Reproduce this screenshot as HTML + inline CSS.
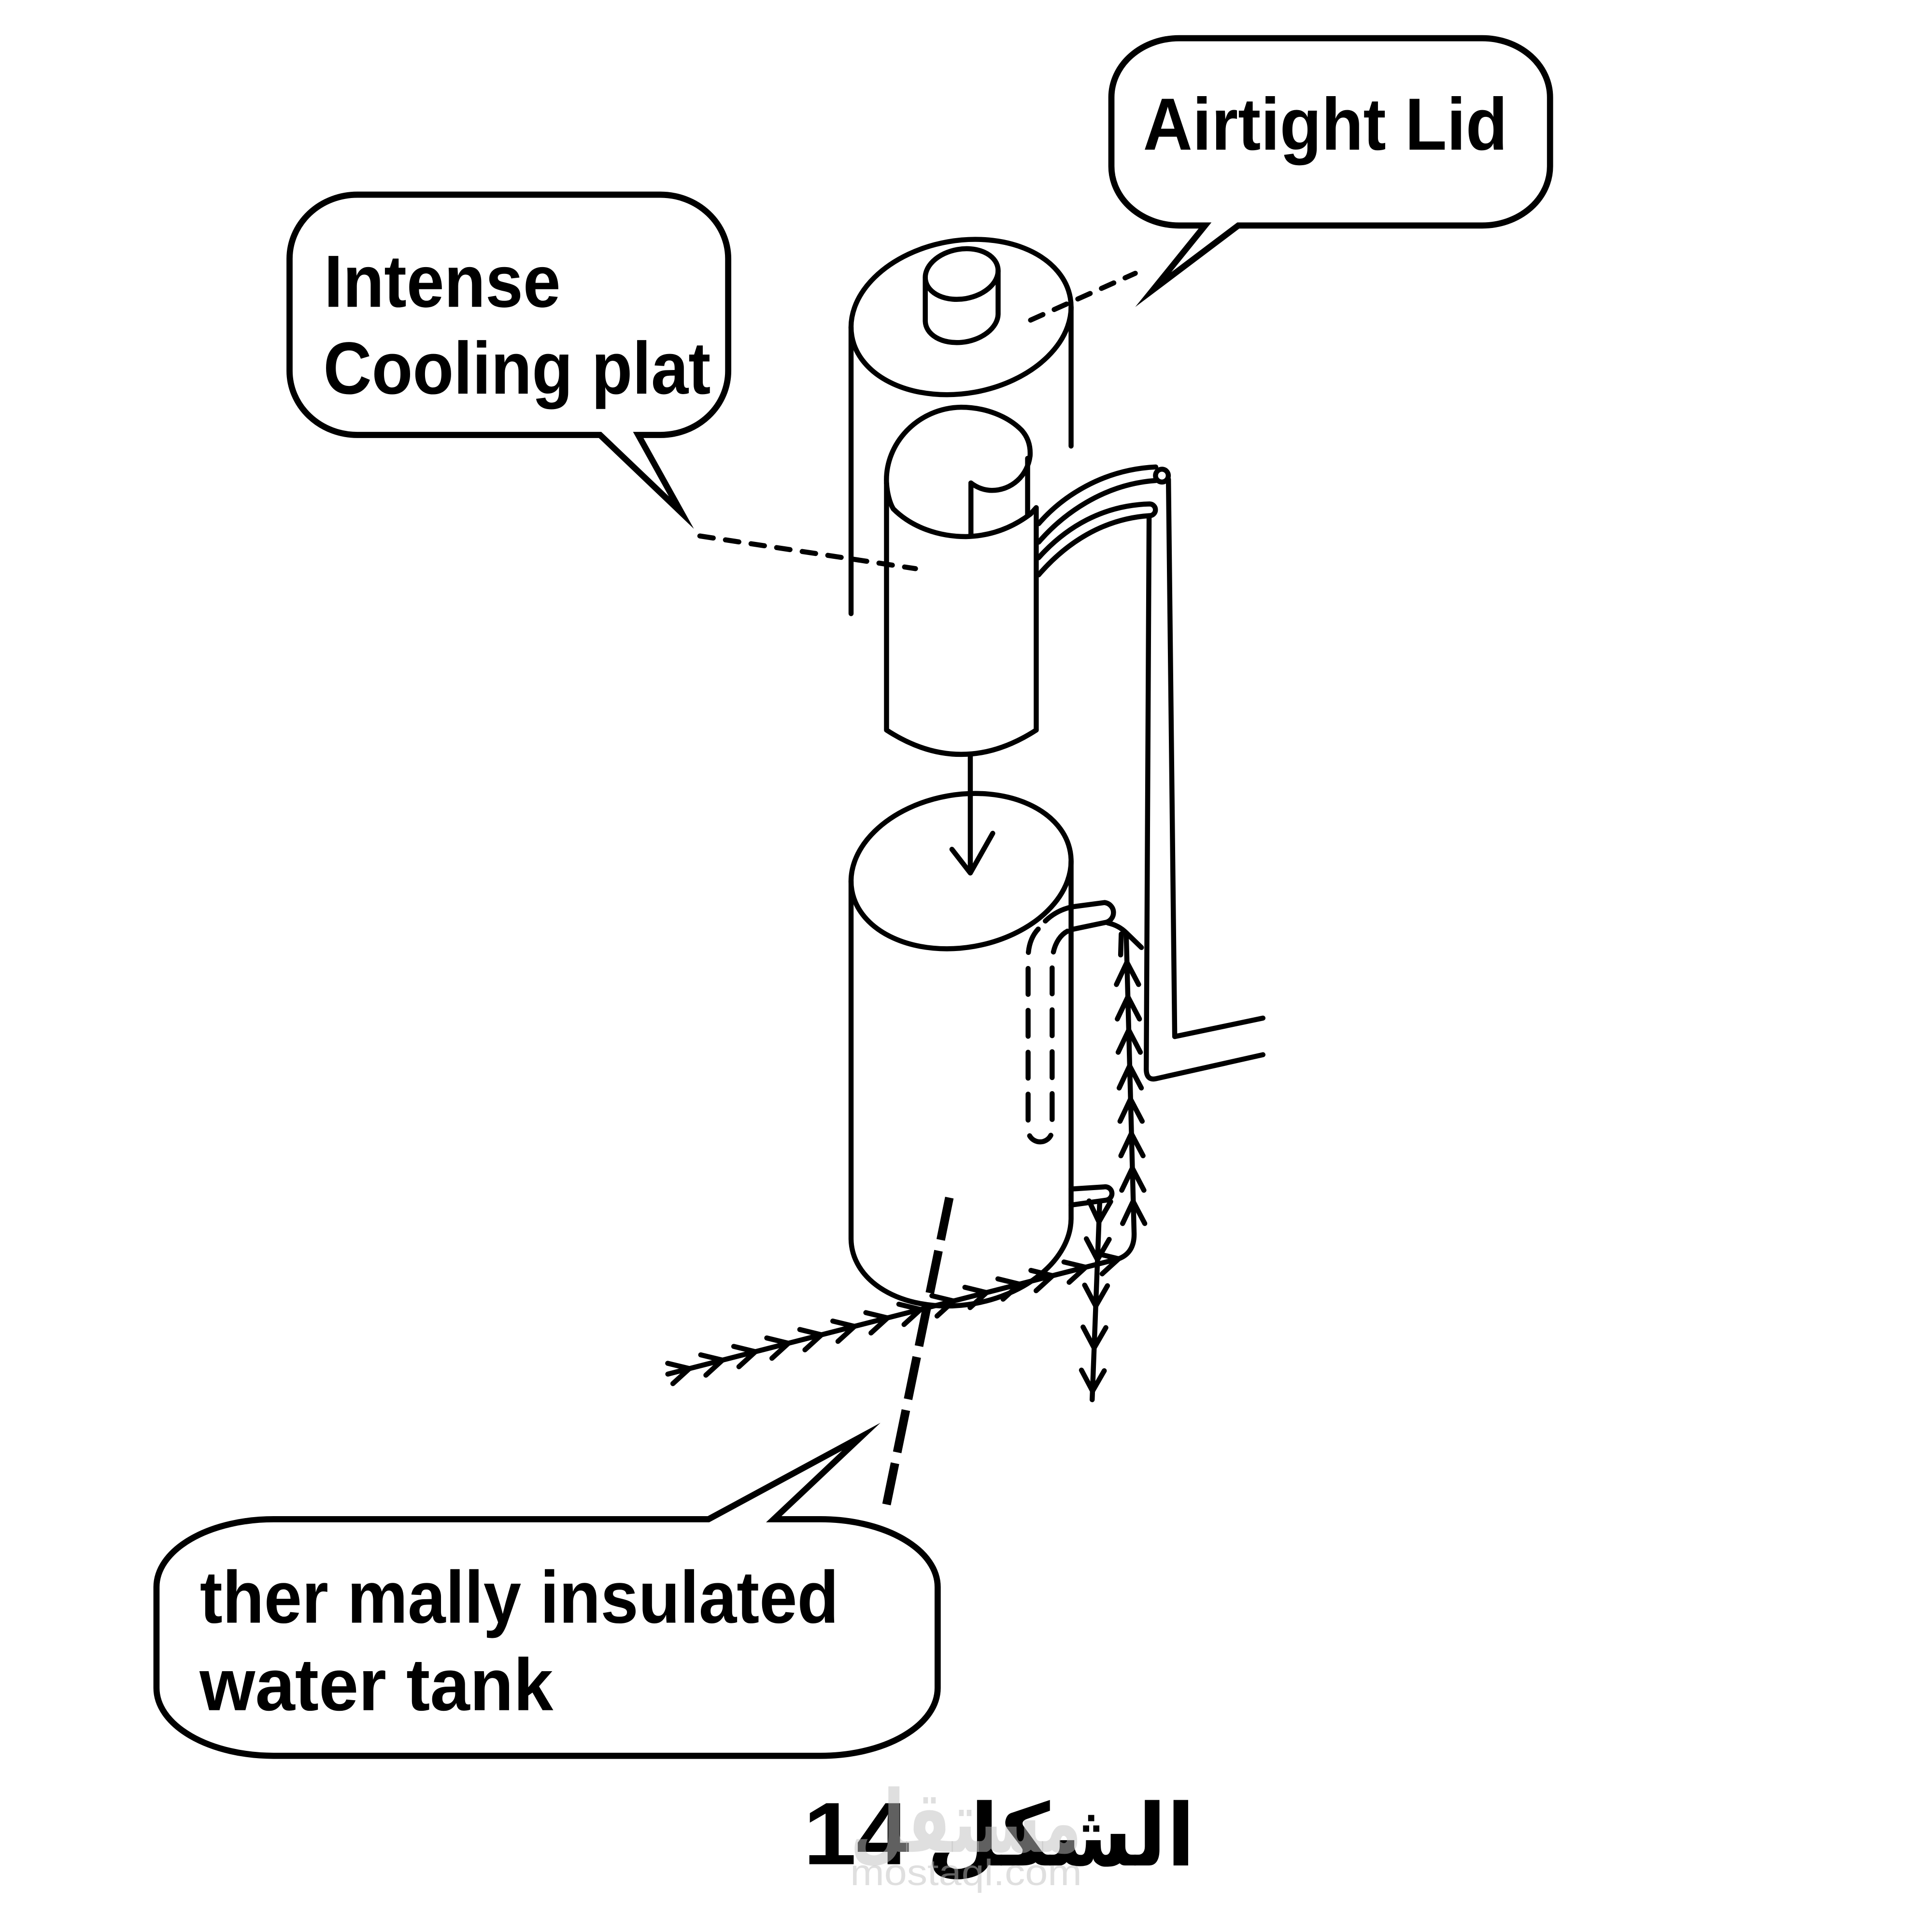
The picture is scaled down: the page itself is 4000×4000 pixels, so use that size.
<!DOCTYPE html>
<html>
<head>
<meta charset="utf-8">
<style>
html,body{margin:0;padding:0;background:#fff}
svg{display:block}
</style>
</head>
<body>
<svg xmlns="http://www.w3.org/2000/svg" width="4000" height="4000" viewBox="0 0 1568 1568">
<rect width="1568" height="1568" fill="#fff"/>

<!-- Speech bubbles -->
<g fill="#fff" stroke="#000" stroke-width="5" stroke-linejoin="miter" stroke-miterlimit="12">
  <path d="M957,31 H1203 A55 48 0 0 1 1258,79 V135 A55 48 0 0 1 1203,183 H1005 L936,235 L978,183 H957 A55 48 0 0 1 902,135 V79 A55 48 0 0 1 957,31 Z"/>
  <path d="M290,158 H536 A55 52 0 0 1 591,210 V301 A55 52 0 0 1 536,353 H518 L553,416 L487,353 H290 A55 52 0 0 1 235,301 V210 A55 52 0 0 1 290,158 Z"/>
  <path d="M222,1233 H575 L699,1166 L628,1233 H666 A95 55 0 0 1 761,1288 V1370 A95 55 0 0 1 666,1425 H222 A95 55 0 0 1 127,1370 V1288 A95 55 0 0 1 222,1233 Z"/>
</g>

<!-- Bubble labels -->
<g font-family="'Liberation Sans', Arial, sans-serif" font-weight="bold" font-size="60" fill="#000">
  <text x="927.7" y="121.5" textLength="295.8" lengthAdjust="spacingAndGlyphs">Airtight Lid</text>
  <text x="263" y="249" textLength="192" lengthAdjust="spacingAndGlyphs">Intense</text>
  <text x="262.4" y="319.5" textLength="314.4" lengthAdjust="spacingAndGlyphs">Cooling plat</text>
  <text x="162.2" y="1317" textLength="518.5" lengthAdjust="spacingAndGlyphs">ther mally insulated</text>
  <text x="162" y="1388" textLength="287" lengthAdjust="spacingAndGlyphs">water tank</text>
</g>

<!-- Drawing -->
<g fill="none" stroke="#000" stroke-width="4.1" stroke-linecap="round" stroke-linejoin="round">
  <!-- Lid cylinder -->
  <ellipse cx="780" cy="257.3" rx="90" ry="62" transform="rotate(-10 780 257.3)"/>
  <path d="M690.72,265.45 V498"/>
  <path d="M869.28,249.15 V362"/>
  <!-- knob -->
  <ellipse cx="780.5" cy="222.4" rx="29.8" ry="20.2" transform="rotate(-10 780.5 222.4)"/>
  <path d="M750.95,225.2 V260.68 A29.8 20.2 -10 0 0 810.05,255.12 V219.6"/>

  <!-- Cooling plate cylinder -->
  <path d="M719.5,392 C718,360 745,331 780,330.5 C800,330.5 818,338 829,349 C834.5,355 836.5,362 836,370 C834,386 821,398 805,398 C798,398 792,395 788,392"/>
  <path d="M788,392 V434.5"/>
  <path d="M834,372 V418"/>
  <path d="M719.5,392 C720,400 722,408 725,413 C740,428 762,435.5 784,435.5 C805,435 822,428 836.5,417 L841,412 V592.5"/>
  <path d="M719.5,392 V592.5 Q780,632 841,592.5"/>

  <!-- upper pipe -->
  <path d="M843,425 C862,403 895,381 938,379"/>
  <path d="M843,440 C862,418 895,393 938,390"/>
  <circle cx="943" cy="386" r="5.2" fill="#fff"/>
  <path d="M948.3,389 L953.4,841.3 L1025,826.3"/>
  <!-- lower pipe -->
  <path d="M843,452.6 C865,428 895,410 933,409 A4.75 4.75 0 0 1 933,418.5 C895,421 865,441 843,466.5"/>
  <path d="M932.6,419 L930.3,868 Q930.5,877 938,875.5 L1025,856"/>

  <!-- arrow from cooling to tank -->
  <path d="M787.5,612.5 V708"/>
  <path d="M772.6,689.3 L787.5,708.5 L805.7,676.3"/>

  <!-- Tank -->
  <ellipse cx="780" cy="707" rx="90" ry="62" transform="rotate(-10 780 707)"/>
  <path d="M690.72,715.15 V1005.65 A90 62 -10 0 0 869.28,989.35 V698.85"/>

  <!-- tank top pipe -->
  <path d="M848.4,747.5 C854,742 861,738 870,736 L896.4,732.5 A8.2 8.2 0 0 1 896.4,748.8 L870.2,754.3"/>
  <path d="M842.6,754 C837,760 834.4,768 834.4,778 V917 A9.75 9.75 0 0 0 853.9,917 V782 C854,768 860,757 870,754.3" stroke-dasharray="21 13"/>

  <!-- tank bottom pipe -->
  <path d="M869.3,965 L896,963.3 A5.4 5.4 0 0 1 898,974 L869.3,978"/>

  <!-- up arrow line -->
  <path d="M899,749 Q908,751 914,757 L926.4,769"/>
  <path d="M910,758 L909.5,775"/>
  <path d="M914,757 L920.4,1000 C921,1013 915,1019 907.9,1021.6"/>
  <path d="M906.1,799 L914.6,781 L924.1,799"/>
  <path d="M906.8,827 L915.4,809 L924.8,827"/>
  <path d="M907.5,854 L916.1,836 L925.5,854"/>
  <path d="M908.3,883 L916.8,865 L926.3,883"/>
  <path d="M909.0,910 L917.5,892 L927.0,910"/>
  <path d="M909.7,938 L918.2,920 L927.7,938"/>
  <path d="M910.4,966 L919.0,948 L928.4,966"/>
  <path d="M911.1,993 L919.6,975 L929.1,993"/>

  <!-- down arrow line -->
  <path d="M892.5,976 L886.4,1136"/>
  <path d="M883.9,974.7 L891.9,991.7 L901.4,975.2"/>
  <path d="M881.7,1005.4 L890.7,1022.4 L900.2,1005.9"/>
  <path d="M880.3,1043 L889.3,1060 L898.8,1043.5"/>
  <path d="M879.0,1077 L888.0,1094 L897.5,1077.5"/>
  <path d="M877.7,1112 L886.7,1129 L896.2,1112.5"/>

  <!-- right arrow line -->
  <path d="M542,1115.2 L907.9,1021.6"/>
  <path d="M541.9,1106.45 L559.5,1110.73 L546.1,1122.93"/>
  <path d="M568.7,1099.59 L586.3,1103.87 L572.9,1116.07"/>
  <path d="M595.5,1092.74 L613.1,1097.02 L599.7,1109.22"/>
  <path d="M622.3,1085.89 L639.9,1090.17 L626.5,1102.37"/>
  <path d="M649.1,1079.03 L666.7,1083.31 L653.3,1095.51"/>
  <path d="M675.9,1072.18 L693.5,1076.46 L680.1,1088.66"/>
  <path d="M702.7,1065.33 L720.3,1069.61 L706.9,1081.81"/>
  <path d="M729.5,1058.48 L747.1,1062.76 L733.7,1074.96"/>
  <path d="M756.3,1051.62 L773.9,1055.90 L760.5,1068.10"/>
  <path d="M783.1,1044.77 L800.7,1049.05 L787.3,1061.25"/>
  <path d="M809.9,1037.92 L827.5,1042.20 L814.1,1054.40"/>
  <path d="M836.7,1031.06 L854.3,1035.34 L840.9,1047.54"/>
  <path d="M863.5,1024.21 L881.1,1028.49 L867.7,1040.69"/>
  <path d="M890.3,1017.36 L907.9,1021.64 L894.5,1033.84"/>

  <!-- dashed leaders -->
  <path d="M836.4,259.8 L921.4,221.8" stroke-dasharray="11 10"/>
  <path d="M568,435 L743,461.5" stroke-dasharray="11 10"/>
</g>

<!-- thick dashed leader to tank label -->
<path d="M770.5,972 L719.5,1221" fill="none" stroke="#000" stroke-width="7" stroke-linecap="butt" stroke-dasharray="35 9"/>

<!-- Caption -->
<text x="652" y="1513" font-family="'Liberation Sans', Arial, sans-serif" font-weight="bold" font-size="72" fill="#000" textLength="86" lengthAdjust="spacingAndGlyphs">14</text>
<text x="752" y="1514" font-family="'DejaVu Sans', sans-serif" font-weight="bold" font-size="70" fill="#000" textLength="218" lengthAdjust="spacingAndGlyphs">الشكل</text>

<!-- watermark -->
<g fill="#c0c0c0" fill-opacity="0.5">
  <text x="690" y="1503" font-family="'DejaVu Sans', sans-serif" font-weight="bold" font-size="70" textLength="188" lengthAdjust="spacingAndGlyphs">مستقل</text>
  <text x="690" y="1530" font-family="'Liberation Sans', Arial, sans-serif" font-size="30" textLength="188" lengthAdjust="spacingAndGlyphs">mostaql.com</text>
</g>
</svg>
</body>
</html>
